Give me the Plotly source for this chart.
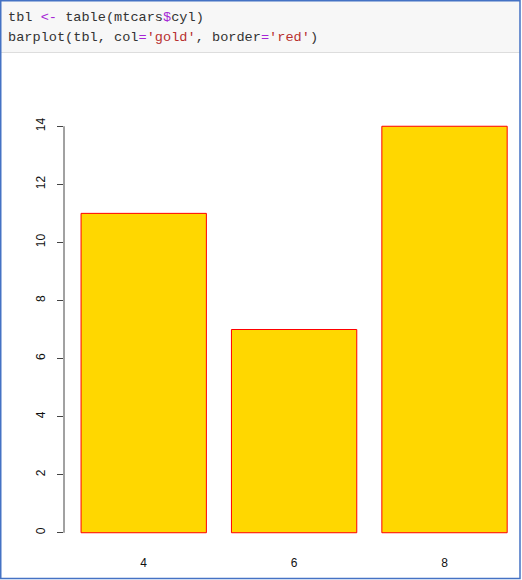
import plotly.graph_objects as go

categories = ["4", "6", "8"]
counts = [11, 7, 14]
y_ticks = [0, 2, 4, 6, 8, 10, 12, 14]

W, H = 522, 580
L, R, T, B = 64, 2, 110, 31
PW, PH = W - L - R, H - T - B

def px(x):
    return (x - L) / PW

def py(y):
    return (H - B - y) / PH

fig = go.Figure()
fig.add_trace(go.Bar(
    x=categories, y=counts,
    marker=dict(color="gold", line=dict(color="red", width=1)),
    hoverinfo="x+y",
))

shapes = [
    # header background
    dict(type="rect", xref="paper", yref="paper", x0=px(1), x1=px(520), y0=py(52), y1=py(1),
         fillcolor="#f7f7f7", line=dict(width=0), layer="below"),
    dict(type="line", xref="paper", yref="paper", x0=px(1), x1=px(520), y0=py(52.5), y1=py(52.5),
         line=dict(color="#dddddd", width=1)),
    # outer border
    dict(type="rect", xref="paper", yref="paper", x0=px(0.75), x1=px(520), y0=py(578.5), y1=py(0.75),
         line=dict(color="#4472C4", width=1.5), fillcolor="rgba(0,0,0,0)"),
    # y axis line (0 to 14 only, R style)
    dict(type="line", xref="paper", yref="y", x0=0, x1=0, y0=0, y1=14,
         line=dict(color="#444444", width=1)),
]

P = "#a626d6"
S = "#b8312f"
line1 = f'tbl <span style="color:{P}">&lt;-</span> table(mtcars<span style="color:{P}">$</span>cyl)'
line2 = (f'barplot(tbl, col<span style="color:{P}">=</span><span style="color:{S}">\'gold\'</span>, '
         f'border<span style="color:{P}">=</span><span style="color:{S}">\'red\'</span>)')

annotations = []
for txt, yc in [(line1, 17), (line2, 37.5)]:
    annotations.append(dict(
        xref="paper", yref="paper", x=px(6), y=py(yc), xanchor="left", yanchor="middle",
        text=txt, showarrow=False,
        font=dict(family="Liberation Mono, DejaVu Sans Mono, monospace", size=13.6, color="#333333"),
    ))

fig.update_layout(
    width=W, height=H,
    margin=dict(l=L, r=R, t=T, b=B),
    paper_bgcolor="white", plot_bgcolor="white",
    bargap=1/6,
    showlegend=False,
    shapes=shapes,
    annotations=annotations,
    font=dict(family="Liberation Sans, Arial, sans-serif", size=12, color="#111111"),
    xaxis=dict(
        type="category", range=[-0.53, -0.53 + PW / 150.4],
        showgrid=False, zeroline=False, showline=False, ticks="",
        tickfont=dict(size=12), ticklabelstandoff=5,
    ),
    yaxis=dict(
        range=[-0.56, 14.56], tickvals=y_ticks, ticktext=[str(v) for v in y_ticks],
        showgrid=False, zeroline=False, showline=False,
        ticks="outside", ticklen=6, tickcolor="#444444", tickwidth=1,
        tickangle=-90, tickfont=dict(size=12), ticklabelstandoff=7,
    ),
)

fig.write_html("out.html", config={"displayModeBar": False},
               post_script="document.body.style.margin='0';document.body.style.overflow='hidden';")
